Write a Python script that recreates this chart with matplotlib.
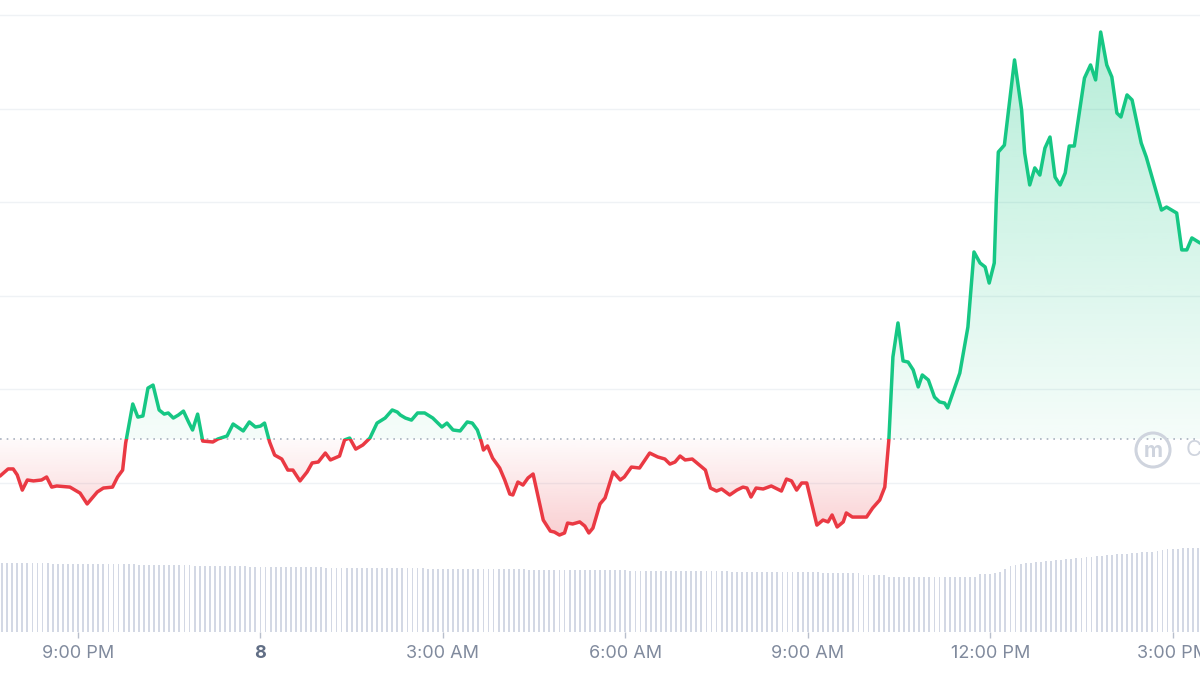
import matplotlib
matplotlib.use("Agg")
import matplotlib.pyplot as plt
import matplotlib.dates as mdates
from matplotlib.patches import Rectangle, PathPatch, Ellipse
from matplotlib.path import Path
import numpy as np
import pandas as pd

# ---- data ----
# price samples, 7th 19:43 -> 8th 15:27
price_times = [
    "19:43", "19:51", "19:56", "20:00", "20:05", "20:10", "20:16", "20:24", "20:29", "20:34",
    "20:39", "20:52", "21:02", "21:09", "21:19", "21:25", "21:34", "21:39", "21:44", "21:47",
    "21:54", "21:59", "22:04", "22:09", "22:14", "22:20", "22:25", "22:29", "22:34", "22:39",
    "22:44", "22:49", "22:53", "22:58", "23:03", "23:13", "23:18", "23:27", "23:33", "23:43",
    "23:49", "23:55", "00:00", "00:04", "00:09", "00:14", "00:21", "00:27", "00:32", "00:39",
    "00:46", "00:51", "00:57", "01:04", "01:09", "01:18", "01:23", "01:28", "01:34", "01:41",
    "01:48", "01:55", "02:03", "02:10", "02:15", "02:18", "02:23", "02:29", "02:35", "02:42",
    "02:50", "02:59", "03:04", "03:10", "03:17", "03:24", "03:29", "03:34", "03:38", "03:40",
    "03:44", "03:49", "03:56", "04:01", "04:06", "04:09", "04:14", "04:19", "04:24", "04:29",
    "04:34", "04:39", "04:46", "04:50", "04:55", "05:00", "05:03", "05:08", "05:15", "05:20",
    "05:24", "05:28", "05:35", "05:40", "05:48", "05:55", "05:59", "06:06", "06:14", "06:24",
    "06:32", "06:39", "06:44", "06:49", "06:54", "06:59", "07:06", "07:13", "07:19", "07:24",
    "07:30", "07:35", "07:43", "07:50", "07:56", "08:00", "08:04", "08:09", "08:16", "08:24",
    "08:34", "08:39", "08:44", "08:49", "08:54", "08:59", "09:09", "09:15", "09:20", "09:24",
    "09:29", "09:35", "09:38", "09:44", "09:58", "10:04", "10:11", "10:16", "10:18", "10:20",
    "10:24", "10:29", "10:34", "10:39", "10:44", "10:49", "10:53", "10:59", "11:05", "11:10",
    "11:15", "11:18", "11:30", "11:38", "11:44", "11:50", "11:55", "11:59", "12:04", "12:06",
    "12:08", "12:14", "12:24", "12:31", "12:34", "12:39", "12:44", "12:49", "12:54", "12:59",
    "13:04", "13:09", "13:14", "13:18", "13:23", "13:33", "13:39", "13:44", "13:49", "13:55",
    "14:00", "14:05", "14:09", "14:15", "14:20", "14:29", "14:34", "14:49", "14:54", "15:04",
    "15:09", "15:14", "15:19", "15:27",
]
prices = [
    1.0037, 1.0075, 1.0075, 1.0043, 0.9962, 1.0016, 1.0011, 1.0016, 1.0032, 0.9978,
    0.9984, 0.9978, 0.9946, 0.9888, 0.9952, 0.9973, 0.9978, 1.0032, 1.0069, 1.0214,
    1.0422, 1.0352, 1.0358, 1.0507, 1.0523, 1.0390, 1.0368, 1.0374, 1.0347, 1.0363,
    1.0384, 1.0326, 1.0283, 1.0368, 1.0224, 1.0219, 1.0235, 1.0251, 1.0315, 1.0278,
    1.0326, 1.0299, 1.0304, 1.0320, 1.0219, 1.0149, 1.0128, 1.0069, 1.0069, 1.0011,
    1.0059, 1.0107, 1.0112, 1.0160, 1.0123, 1.0144, 1.0230, 1.0240, 1.0181, 1.0203,
    1.0240, 1.0320, 1.0347, 1.0390, 1.0379, 1.0363, 1.0347, 1.0336, 1.0374, 1.0374,
    1.0347, 1.0299, 1.0320, 1.0283, 1.0278, 1.0326, 1.0320, 1.0283, 1.0219, 1.0176,
    1.0198, 1.0133, 1.0080, 1.0016, 0.9941, 0.9936, 1.0005, 0.9989, 1.0027, 1.0048,
    0.9925, 0.9802, 0.9743, 0.9738, 0.9722, 0.9733, 0.9786, 0.9781, 0.9792, 0.9770,
    0.9733, 0.9759, 0.9888, 0.9920, 1.0059, 1.0016, 1.0032, 1.0085, 1.0080, 1.0160,
    1.0139, 1.0128, 1.0101, 1.0112, 1.0144, 1.0123, 1.0128, 1.0096, 1.0069, 0.9973,
    0.9957, 0.9968, 0.9936, 0.9962, 0.9978, 0.9973, 0.9925, 0.9973, 0.9968, 0.9984,
    0.9957, 1.0021, 1.0011, 0.9962, 1.0000, 1.0000, 0.9775, 0.9802, 0.9792, 0.9829,
    0.9765, 0.9792, 0.9840, 0.9818, 0.9818, 0.9866, 0.9909, 0.9978, 1.0107, 1.0230,
    1.0673, 1.0855, 1.0652, 1.0646, 1.0604, 1.0513, 1.0577, 1.0550, 1.0459, 1.0433,
    1.0427, 1.0401, 1.0587, 1.0833, 1.1234, 1.1175, 1.1154, 1.1068, 1.1175, 1.1512,
    1.1768, 1.1805, 1.2260, 1.1992, 1.1763, 1.1592, 1.1683, 1.1645, 1.1789, 1.1848,
    1.1634, 1.1592, 1.1656, 1.1800, 1.1800, 1.2163, 1.2233, 1.2153, 1.2409, 1.2233,
    1.2169, 1.1976, 1.1955, 1.2073, 1.2046, 1.1816, 1.1741, 1.1458, 1.1474, 1.1442,
    1.1245, 1.1245, 1.1309, 1.1282,
]
open_price = 1.0235  # dotted reference line

# 5-minute volume bars starting 7th 19:45
volume_start = "2023-03-07 19:45"
volumes = [
    69.3, 69.3, 69.2, 69.2, 69.1, 69.1, 69.0, 69.0, 68.8, 68.6,
    68.5, 68.5, 68.4, 68.4, 68.3, 68.3, 68.2, 68.2, 68.1, 68.0,
    68.0, 67.9, 67.9, 67.8, 67.7, 67.7, 67.6, 67.5, 67.4, 67.3,
    67.2, 67.1, 67.0, 67.0, 66.9, 66.8, 66.7, 66.6, 66.5, 66.4,
    66.3, 66.2, 66.1, 66.0, 65.9, 65.8, 65.8, 65.7, 65.6, 65.5,
    65.4, 65.3, 65.2, 65.1, 65.0, 65.0, 64.9, 64.9, 64.8, 64.8,
    64.7, 64.7, 64.6, 64.6, 64.5, 64.5, 64.4, 64.4, 64.3, 64.3,
    64.2, 64.2, 64.1, 64.1, 64.0, 64.0, 63.9, 63.9, 63.8, 63.8,
    63.7, 63.7, 63.6, 63.6, 63.5, 63.5, 63.4, 63.4, 63.3, 63.3,
    63.2, 63.2, 63.1, 63.1, 63.0, 63.0, 62.9, 62.9, 62.8, 62.8,
    62.7, 62.7, 62.6, 62.6, 62.5, 62.5, 62.4, 62.4, 62.3, 62.3,
    62.2, 62.2, 62.1, 62.1, 62.0, 62.0, 61.9, 61.9, 61.8, 61.8,
    61.7, 61.7, 61.6, 61.6, 61.5, 61.5, 61.4, 61.4, 61.3, 61.3,
    61.2, 61.2, 61.1, 61.1, 61.0, 61.0, 60.9, 60.9, 60.8, 60.8,
    60.7, 60.7, 60.6, 60.6, 60.5, 60.5, 60.4, 60.4, 60.3, 60.3,
    60.2, 60.2, 60.1, 60.1, 60.0, 60.0, 59.9, 59.9, 59.8, 59.8,
    59.7, 59.6, 59.5, 59.4, 59.3, 59.2, 59.1, 59.0, 58.9, 58.8,
    57.2, 57.1, 57.1, 57.0, 57.0, 55.0, 55.0, 55.0, 55.0, 55.0,
    55.0, 55.0, 55.1, 55.0, 55.1, 55.1, 55.0, 55.1, 55.2, 55.2,
    55.3, 55.4, 55.5, 58.0, 58.1, 58.3, 59.0, 60.0, 63.0, 66.0,
    67.5, 68.5, 69.0, 69.5, 70.0, 70.5, 71.0, 71.3, 71.7, 72.3,
    72.8, 73.3, 73.8, 74.3, 74.8, 75.4, 76.0, 76.3, 76.8, 77.3,
    77.8, 78.2, 78.5, 79.0, 79.4, 79.7, 80.0, 80.3, 81.0, 82.0,
    83.0, 83.3, 83.5, 83.7, 83.8, 84.0, 84.0,
]

tick_times = ["2023-03-07 21:00", "2023-03-08 00:00", "2023-03-08 03:00", "2023-03-08 06:00",
              "2023-03-08 09:00", "2023-03-08 12:00", "2023-03-08 15:00"]
tick_labels = ["9:00 PM", "8", "3:00 AM", "6:00 AM", "9:00 AM", "12:00 PM", "3:00 PM"]
grid_levels = [1.00, 1.05, 1.10, 1.15, 1.20, 1.25]

GREEN = "#16c784"
RED = "#ea3943"

plt.rcParams['font.family'] = ['Inter', 'DejaVu Sans']


def to_stamp(hhmm):
    day = "2023-03-07" if int(hhmm[:2]) >= 19 else "2023-03-08"
    return pd.Timestamp(day + " " + hhmm)


def gradient(color, a_bottom, a_top):
    rgb = matplotlib.colors.to_rgb(color)
    g = np.zeros((256, 1, 4))
    g[:, 0, :3] = rgb
    g[:, 0, 3] = np.linspace(a_bottom, a_top, 256)
    return g


def clip_patch(ax, coll):
    path = Path.make_compound_path(*coll.get_paths())
    patch = PathPatch(path, transform=ax.transData, facecolor="none", edgecolor="none")
    ax.add_patch(patch)
    coll.remove()
    return patch


times = [to_stamp(t) for t in price_times]
x = mdates.date2num(times)
p = np.array(prices)
x0 = mdates.date2num(pd.Timestamp("2023-03-07 19:43"))
x1 = mdates.date2num(pd.Timestamp("2023-03-08 15:27"))

fig = plt.figure(figsize=(12, 6.75), dpi=100)
ax = fig.add_axes([0, 43 / 675, 1, 632 / 675])
ax.set_facecolor("white")

# gradient areas
up = ax.fill_between(x, p, open_price, where=p >= open_price, interpolate=True)
up_patch = clip_patch(ax, up)
im = ax.imshow(gradient(GREEN, 0.0, 0.32), extent=[x0, x1, 0.99, 1.245], origin="lower",
               aspect="auto", interpolation="bilinear", zorder=1)
im.set_clip_path(up_patch)

dn = ax.fill_between(x, p, open_price, where=p <= open_price, interpolate=True)
dn_patch = clip_patch(ax, dn)
im2 = ax.imshow(gradient(RED, 0.25, 0.02), extent=[x0, x1, 0.97, open_price], origin="lower",
                aspect="auto", interpolation="bilinear", zorder=1)
im2.set_clip_path(dn_patch)

# price line, green above the open, red below
for col, y0 in [(GREEN, open_price), (RED, open_price - 1)]:
    ln, = ax.plot(x, p, color=col, lw=2.5, solid_joinstyle="round", solid_capstyle="round", zorder=3)
    ln.set_clip_path(Rectangle((x0 - 1, y0), x1 - x0 + 2, 1, transform=ax.transData))

ax.axhline(open_price, color="#a9b1bf", lw=1.2, ls=(0, (1, 3)), zorder=2)

ax.set_xlim(x0, x1)
ax.set_ylim(0.9204, 1.2580)
ax.set_yticks(grid_levels)
ax.yaxis.grid(True, color="#eff2f5", lw=1)
ax.set_axisbelow(True)
ax.tick_params(left=False, labelleft=False, bottom=False, labelbottom=False)
for s in ax.spines.values():
    s.set_visible(False)

# volume
vax = fig.add_axes([0, 43 / 675, 1, 100 / 675])
vax.patch.set_alpha(0)
vol_times = pd.date_range(volume_start, periods=len(volumes), freq="5min")
vax.bar(mdates.date2num(vol_times), volumes, width=1.8 / 1440, color="#d3d8e4", zorder=1)
vax.set_xlim(x0, x1)
vax.set_ylim(0, 100)
vax.set_yticks([])
for s in vax.spines.values():
    s.set_visible(False)
vax.set_xticks(mdates.date2num(pd.to_datetime(tick_times)))
vax.set_xticklabels(tick_labels)
vax.tick_params(axis="x", length=4, width=1, color="#b8bfcc", labelsize=13,
                labelcolor="#808a9d", pad=5)
for lab in vax.get_xticklabels():
    if lab.get_text() == "8":
        lab.set_fontweight("bold")
        lab.set_color("#616e85")

# watermark (cut by the right edge, as in the source)
fig.add_artist(Ellipse((1153 / 1200, 1 - 450 / 675), 34 / 1200, 34 / 675, transform=fig.transFigure,
                       facecolor="none", edgecolor="#cfd4de", lw=2.2))
fig.text(1153 / 1200, 1 - 451 / 675, "m", color="#cfd4de", fontsize=15, fontweight="bold",
         ha="center", va="center")
fig.text(1186 / 1200, 1 - 450 / 675, "CoinMarketCap", color="#cfd4de", fontsize=16,
         ha="left", va="center")

fig.savefig("out.png", dpi=100)
